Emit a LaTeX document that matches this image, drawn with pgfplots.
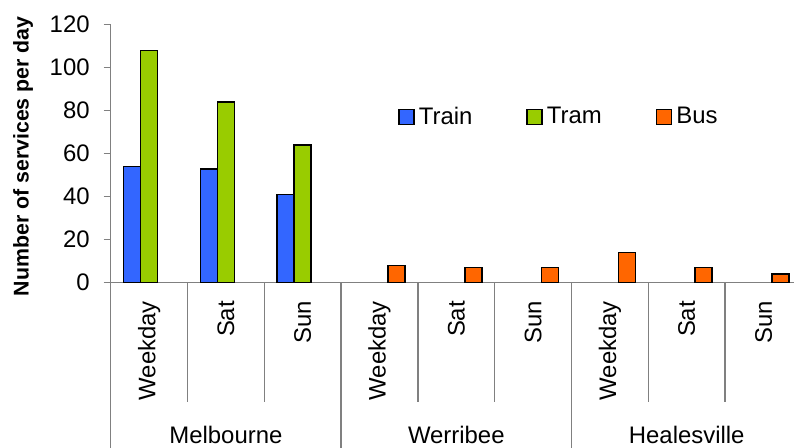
\documentclass[border=0pt]{standalone}
\usepackage{pgfplots}
\pgfplotsset{compat=1.18}
\usepackage{fontspec}
\setmainfont{Liberation Sans}
\definecolor{trainc}{RGB}{51,102,255}
\definecolor{tramc}{RGB}{153,204,0}
\definecolor{busc}{RGB}{255,102,0}
\definecolor{axgray}{RGB}{128,128,128}
\pgfplotsset{mylegend/.style={legend image code/.code={\draw[##1, draw=black, line width=0.75bp] (0bp,-3.75bp) rectangle (7.5bp,3.75bp);}}}
\begin{document}
\begin{tikzpicture}
\useasboundingbox (-55.35bp,-82.65bp) rectangle (341.65bp,141.35bp);
\begin{axis}[
  at={(0,0)}, anchor=south west,
  scale only axis, width=341.65bp, height=129bp,
  xmin=-0.5, xmax=8.397, ymin=0, ymax=120,
  ybar=0pt, bar width=8.5bp,
  axis lines=left, axis line style={-, axgray, line width=0.7bp},
  clip=false,
  /pgf/number format/assume math mode=true,
  ytick={0,20,...,120},
  yticklabels={},
  xtick={0,...,8},
  xticklabels={Weekday,Sat,Sun,Weekday,Sat,Sun,Weekday,Sat,Sun},
  xtick style={draw=none},
  ytick style={draw=axgray, line width=0.7bp},
  tick align=outside, major tick length=3.5bp,
  ticklabel style={font=\fontsize{12}{14}\selectfont},
  xticklabel style={rotate=90, anchor=east, inner sep=0pt, xshift=-5.5bp},
  ylabel={Number of services per day},
  ylabel style={font=\bfseries\fontsize{10.7}{12}\selectfont, at={(axis description cs:-0.1283,0.49)}, anchor=center},
  legend style={draw=none, fill=none, at={(rel axis cs:0.4205,0.642)}, anchor=west, legend columns=3,
    /tikz/every even column/.append style={column sep=25bp}, inner sep=0pt,
    font=\fontsize{12}{14}\selectfont},
]
\addplot[fill=trainc, draw=black, line width=0.75bp, mylegend] coordinates {(0,54) (1,53) (2,41)};
\addplot[fill=tramc, draw=black, line width=0.75bp, mylegend] coordinates {(0,108) (1,84) (2,64)};
\addplot[fill=busc, draw=black, line width=0.75bp, mylegend] coordinates {(3,8) (4,7) (5,7) (6,14) (7,7) (8,4)};
\legend{Train,Tram,Bus}
\pgfplotsinvokeforeach{0,20,40,60,80,100,120}{\node[anchor=east, inner sep=0pt, font=\fontsize{12}{14}\selectfont] at ([xshift=-10.35bp]axis cs:-0.5,#1) {#1};}
\pgfplotsinvokeforeach{0.5,1.5,3.5,4.5,6.5,7.5}{\draw[axgray, line width=0.7bp] (axis cs:#1,0) -- ([yshift=-59.5bp]axis cs:#1,0);}
\pgfplotsinvokeforeach{-0.5,2.5,5.5}{\draw[axgray, line width=0.7bp] (axis cs:#1,0) -- ([yshift=-82.65bp]axis cs:#1,0);}
\node[anchor=base, font=\fontsize{12}{14}\selectfont] at ([yshift=-80.3bp]axis cs:1,0) {Melbourne};
\node[anchor=base, font=\fontsize{12}{14}\selectfont] at ([yshift=-80.3bp]axis cs:4,0) {Werribee};
\node[anchor=base, font=\fontsize{12}{14}\selectfont] at ([yshift=-80.3bp]axis cs:7,0) {Healesville};
\end{axis}
\end{tikzpicture}
\end{document}
